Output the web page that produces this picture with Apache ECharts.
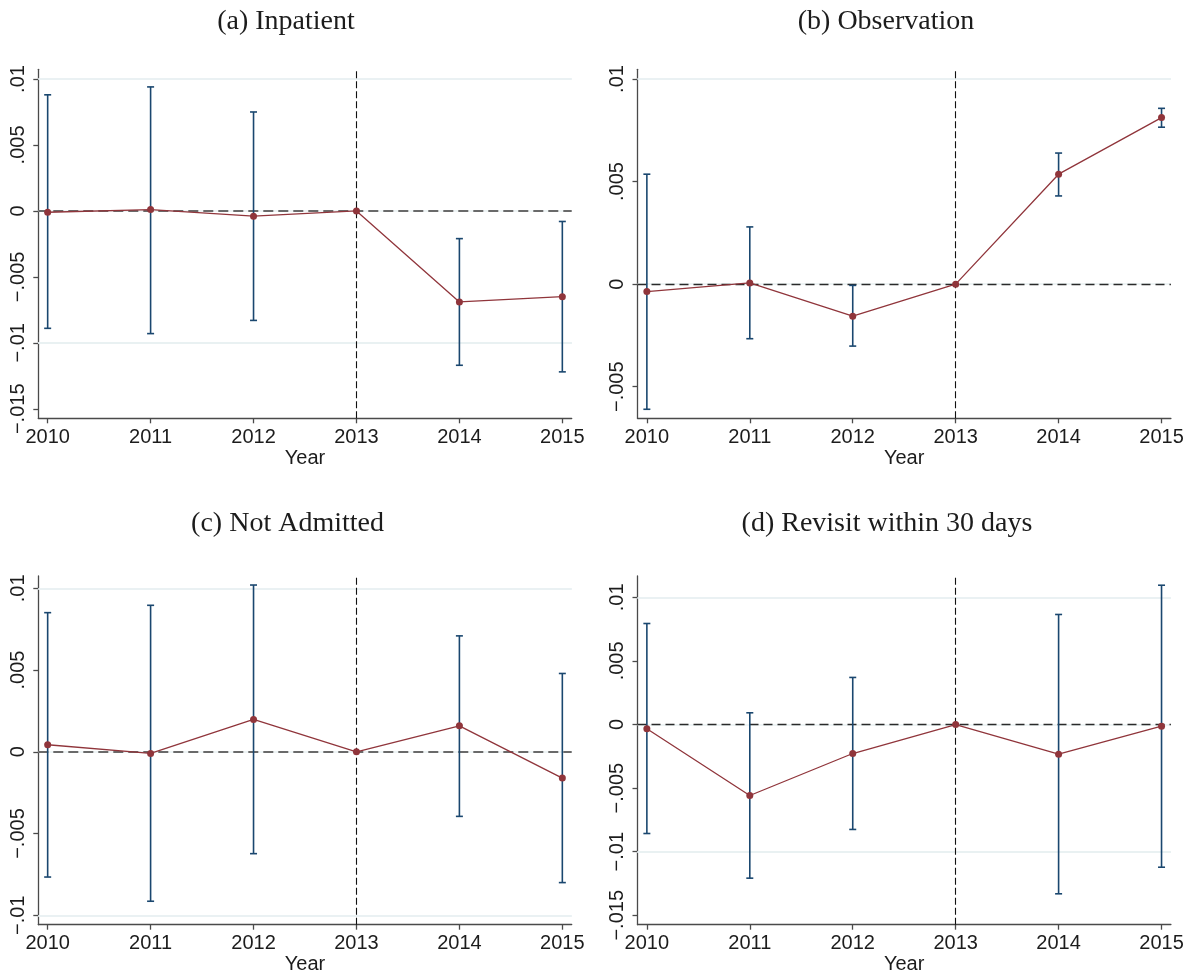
<!DOCTYPE html>
<html>
<head>
<meta charset="utf-8">
<title>Event-study estimates by outcome</title>
<script src="https://cdn.jsdelivr.net/npm/echarts@6/dist/echarts.min.js"></script>
<style>
  html, body { margin: 0; padding: 0; background: #ffffff; }
  #chart { width: 1188px; height: 976px; }
</style>
</head>
<body>
<div id="chart"></div>
<script>
// Years on the horizontal axis; 2013 is the reference year (no interval)
const years = [2010, 2011, 2012, 2013, 2014, 2015];

// (a) Inpatient
const inpatientEst = [-0.0001, 0.0001, -0.0004, 0, -0.0069, -0.0065];
const inpatientLo  = [-0.0089, -0.0093, -0.0083, null, -0.0117, -0.0122];
const inpatientHi  = [0.0088, 0.0094, 0.0075, null, -0.0021, -0.0008];

// (b) Observation
const observationEst = [-0.00036, 0.00006, -0.00156, 0, 0.00536, 0.00812];
const observationLo  = [-0.0061, -0.00266, -0.00302, null, 0.0043, 0.00765];
const observationHi  = [0.00536, 0.00279, -0.00006, null, 0.00639, 0.00857];

// (c) Not Admitted
const notAdmittedEst = [0.00043, -0.0001, 0.00198, 0, 0.00159, -0.00161];
const notAdmittedLo  = [-0.00766, -0.00914, -0.00623, null, -0.00395, -0.008];
const notAdmittedHi  = [0.00851, 0.00896, 0.0102, null, 0.00709, 0.00479];

// (d) Revisit within 30 days
const revisitEst = [-0.00034, -0.00558, -0.00228, 0, -0.00233, -0.00013];
const revisitLo  = [-0.00857, -0.01208, -0.00825, null, -0.01331, -0.01122];
const revisitHi  = [0.00794, 0.00092, 0.0037, null, 0.00865, 0.01095];

// Y tick values for each panel
const ticksA = [-0.015, -0.01, -0.005, 0, 0.005, 0.01];
const ticksB = [-0.005, 0, 0.005, 0.01];
const ticksC = [-0.01, -0.005, 0, 0.005, 0.01];
const ticksD = [-0.015, -0.01, -0.005, 0, 0.005, 0.01];

const titles = ['(a) Inpatient', '(b) Observation', '(c) Not Admitted', '(d) Revisit within 30 days'];
const xName = 'Year';
const referenceYear = 2013;

// ---- styling ----
const LINE_COLOR = '#90353b';
const CI_COLOR = '#1a476f';
const AXIS_COLOR = '#4a4a4a';
const GRID_COLOR = '#e9f0f2';
const TEXT_COLOR = '#1c1c1c';
const SANS = '"Liberation Sans", Arial, Helvetica, sans-serif';
const SERIF = '"Liberation Serif", "Times New Roman", serif';

const panels = [
  { est: inpatientEst, lo: inpatientLo, hi: inpatientHi, ticks: ticksA,
    grid: { left: 38.3, top: 69.3, width: 533.4, height: 349 },
    yRange: [-0.01572, 0.010735], zeroStyle: 'heavy',
    title: { x: 286, y: 8 } },
  { est: observationEst, lo: observationLo, hi: observationHi, ticks: ticksB,
    grid: { left: 637.5, top: 69.3, width: 533.4, height: 349 },
    yRange: [-0.00654, 0.010473], zeroStyle: 'light',
    title: { x: 886, y: 8 } },
  { est: notAdmittedEst, lo: notAdmittedLo, hi: notAdmittedHi, ticks: ticksC,
    grid: { left: 38.3, top: 576, width: 533.4, height: 348.7 },
    yRange: [-0.010575, 0.010752], zeroStyle: 'heavy',
    title: { x: 287.5, y: 509.5 } },
  { est: revisitEst, lo: revisitLo, hi: revisitHi, ticks: ticksD,
    grid: { left: 637.5, top: 576, width: 533.4, height: 348.7 },
    yRange: [-0.015739, 0.011675], zeroStyle: 'light',
    title: { x: 887, y: 509.5 } }
];

// Stata-style tick labels: ".005", "−.01", "0"
function fmtTick(v) {
  if (Math.abs(v) < 1e-12) return '0';
  const s = String(+Math.abs(v).toFixed(4)).replace(/^0/, '');
  return (v < 0 ? '\u2212' : '') + s;
}

// Vertical confidence interval with short caps
function errorBarItem(params, api) {
  const x = api.value(0);
  const top = api.coord([x, api.value(2)]);
  const bot = api.coord([x, api.value(1)]);
  const cap = 3.5;
  const style = { stroke: CI_COLOR, lineWidth: 1.6, fill: null };
  return {
    type: 'group',
    children: [
      { type: 'line', shape: { x1: top[0], y1: top[1], x2: bot[0], y2: bot[1] }, style: style },
      { type: 'line', shape: { x1: top[0] - cap, y1: top[1], x2: top[0] + cap, y2: top[1] }, style: style },
      { type: 'line', shape: { x1: bot[0] - cap, y1: bot[1], x2: bot[0] + cap, y2: bot[1] }, style: style }
    ]
  };
}

const option = {
  animation: false,
  backgroundColor: '#ffffff',
  title: [],
  grid: [],
  xAxis: [],
  yAxis: [],
  series: []
};

panels.forEach(function (p, i) {
  option.title.push({
    text: titles[i],
    left: p.title.x,
    top: p.title.y,
    textAlign: 'center',
    padding: 0,
    textStyle: { fontFamily: SERIF, fontSize: 28, fontWeight: 'normal', color: TEXT_COLOR }
  });

  option.grid.push(Object.assign({ containLabel: false }, p.grid));

  option.xAxis.push({
    type: 'value',
    gridIndex: i,
    min: 2009.909,
    max: 2015.091,
    name: xName,
    nameLocation: 'middle',
    nameGap: 29,
    nameTextStyle: { fontFamily: SANS, fontSize: 20, color: TEXT_COLOR },
    axisLine: { show: true, onZero: false, lineStyle: { color: AXIS_COLOR, width: 1.3 } },
    axisTick: { show: true, inside: false, length: 5, customValues: years,
                lineStyle: { color: AXIS_COLOR, width: 1.3 } },
    axisLabel: { customValues: years, margin: 9, fontFamily: SANS, fontSize: 20, color: TEXT_COLOR,
                 formatter: function (v) { return String(Math.round(v)); } },
    splitLine: { show: false }
  });

  option.yAxis.push({
    type: 'value',
    gridIndex: i,
    min: p.yRange[0],
    max: p.yRange[1],
    axisLine: { show: true, onZero: false, lineStyle: { color: AXIS_COLOR, width: 1.3 } },
    axisTick: { show: true, inside: false, length: 5, customValues: p.ticks,
                lineStyle: { color: AXIS_COLOR, width: 1.3 } },
    axisLabel: { customValues: p.ticks, rotate: 90, margin: 10, fontFamily: SANS, fontSize: 20,
                 color: TEXT_COLOR, formatter: fmtTick },
    splitLine: { show: false }
  });

  const pointData = years.map(function (y, k) { return [y, p.est[k]]; });
  const ciData = years
    .map(function (y, k) { return [y, p.lo[k], p.hi[k]]; })
    .filter(function (d) { return d[1] !== null && d[2] !== null; });

  const zeroLine = p.zeroStyle === 'heavy'
    ? { color: '#6a6a6a', width: 2, type: [10, 5] }
    : { color: '#2a2a2a', width: 1.3, type: [9, 5] };

  // gridlines and reference lines (behind the estimates)
  option.series.push({
    type: 'line',
    xAxisIndex: i,
    yAxisIndex: i,
    data: pointData,
    showSymbol: false,
    symbol: 'none',
    silent: true,
    lineStyle: { opacity: 0 },
    z: 1,
    markLine: {
      silent: true,
      symbol: ['none', 'none'],
      label: { show: false },
      z: 1,
      data: p.ticks.map(function (t) {
        return { yAxis: t, lineStyle: { color: GRID_COLOR, width: 1.5, type: 'solid' } };
      }).concat([
        { yAxis: 0, lineStyle: zeroLine },
        { xAxis: referenceYear, lineStyle: { color: '#111111', width: 1.1, type: [7, 3] } }
      ])
    }
  });

  option.series.push({
    type: 'custom',
    xAxisIndex: i,
    yAxisIndex: i,
    data: ciData,
    encode: { x: 0, y: [1, 2] },
    renderItem: errorBarItem,
    silent: true,
    z: 3
  });

  option.series.push({
    type: 'line',
    xAxisIndex: i,
    yAxisIndex: i,
    data: pointData,
    symbol: 'circle',
    symbolSize: 7,
    itemStyle: { color: LINE_COLOR },
    lineStyle: { color: LINE_COLOR, width: 1.3 },
    silent: true,
    z: 4
  });
});

const chart = echarts.init(document.getElementById('chart'), null, { renderer: 'canvas' });
chart.setOption(option);
</script>
</body>
</html>
